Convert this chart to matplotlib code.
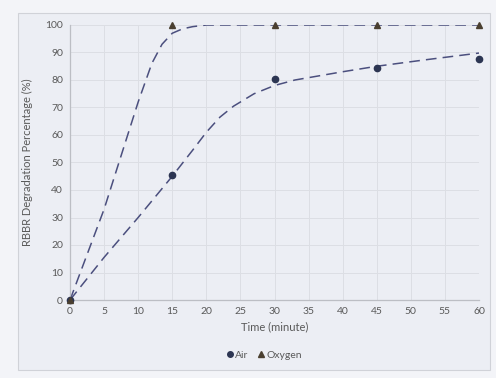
import matplotlib
matplotlib.use("Agg")
import matplotlib.pyplot as plt
from matplotlib.lines import Line2D
from matplotlib.patches import Rectangle

# Measured data points
time_min = [0, 15, 30, 45, 60]
air = [0, 45.5, 80.4, 84.2, 87.8]
oxygen = [0, 100, 100, 100, 100]

# Smoothed trend curves
air_curve_x = [0, 5, 10, 15, 18, 20, 22, 24, 27, 30, 33, 40, 45, 52, 60]
air_curve_y = [0, 15.5, 30, 45, 54.5, 61, 66.5, 70.5, 75, 78, 80, 83, 85, 87.3, 89.8]
oxy_curve_x = [0, 5, 10, 12, 13.5, 15, 16.5, 18, 20, 30, 45, 60]
oxy_curve_y = [0, 33, 72, 86, 93, 97, 98.6, 99.4, 100, 100, 100, 100]

x_ticks = list(range(0, 61, 5))
y_ticks = list(range(0, 101, 10))

BG = "#eceef4"
TXT = "#595959"
LINE = "#4b4f7e"

plt.rcParams['font.family'] = ['Lato', 'DejaVu Sans']

fig = plt.figure(figsize=(4.96, 3.78), dpi=100)
fig.patch.set_facecolor("#f3f4f8")
fig.patches.append(Rectangle((18 / 496, 1 - 370 / 378), (490 - 18) / 496, (370 - 13) / 378,
                             transform=fig.transFigure, facecolor=BG,
                             edgecolor="#d0d2d8", linewidth=0.8, zorder=-10))

ax = fig.add_axes([70 / 496, 1 - 300 / 378, (479 - 70) / 496, (300 - 25) / 378])
ax.set_facecolor(BG)
ax.set_zorder(1)

ax.plot(air_curve_x, air_curve_y, color=LINE, lw=1.1, dashes=(7, 4), zorder=2)
ax.plot(oxy_curve_x, oxy_curve_y, color=LINE, lw=1.1, dashes=(7, 4), zorder=2)
ax.plot(time_min, air, 'o', color="#2c3552", ms=4.5, zorder=3, clip_on=False)
ax.plot(time_min, oxygen, '^', color="#4a3f30", ms=4.5, zorder=3, clip_on=False)

ax.set_xlim(0, 60)
ax.set_ylim(0, 100)
ax.set_xticks(x_ticks)
ax.set_yticks(y_ticks)
ax.tick_params(length=0, labelsize=7.5, colors=TXT, pad=5)
ax.grid(True, color="#dcdee4", lw=0.7)
ax.set_axisbelow(True)
for s in ["top", "right"]:
    ax.spines[s].set_visible(False)
for s in ["left", "bottom"]:
    ax.spines[s].set_color("#bcbec4")
    ax.spines[s].set_linewidth(0.9)

ax.set_xlabel("Time (minute)", fontsize=8, color=TXT, labelpad=4)
ax.set_ylabel("RBBR Degradation Percentage (%)", fontsize=8, color=TXT, labelpad=9)

handles = [Line2D([], [], marker='o', ls='none', color="#2c3552", ms=4, label="Air"),
           Line2D([], [], marker='^', ls='none', color="#4a3f30", ms=4, label="Oxygen")]
fig.legend(handles=handles, loc="center", bbox_to_anchor=(264 / 496, 1 - 355 / 378),
           ncol=2, frameon=False, fontsize=7.5, handletextpad=0.1, columnspacing=0.8,
           handlelength=0.8, labelcolor=TXT)

fig.savefig("out.png", dpi=100, facecolor=fig.get_facecolor())
